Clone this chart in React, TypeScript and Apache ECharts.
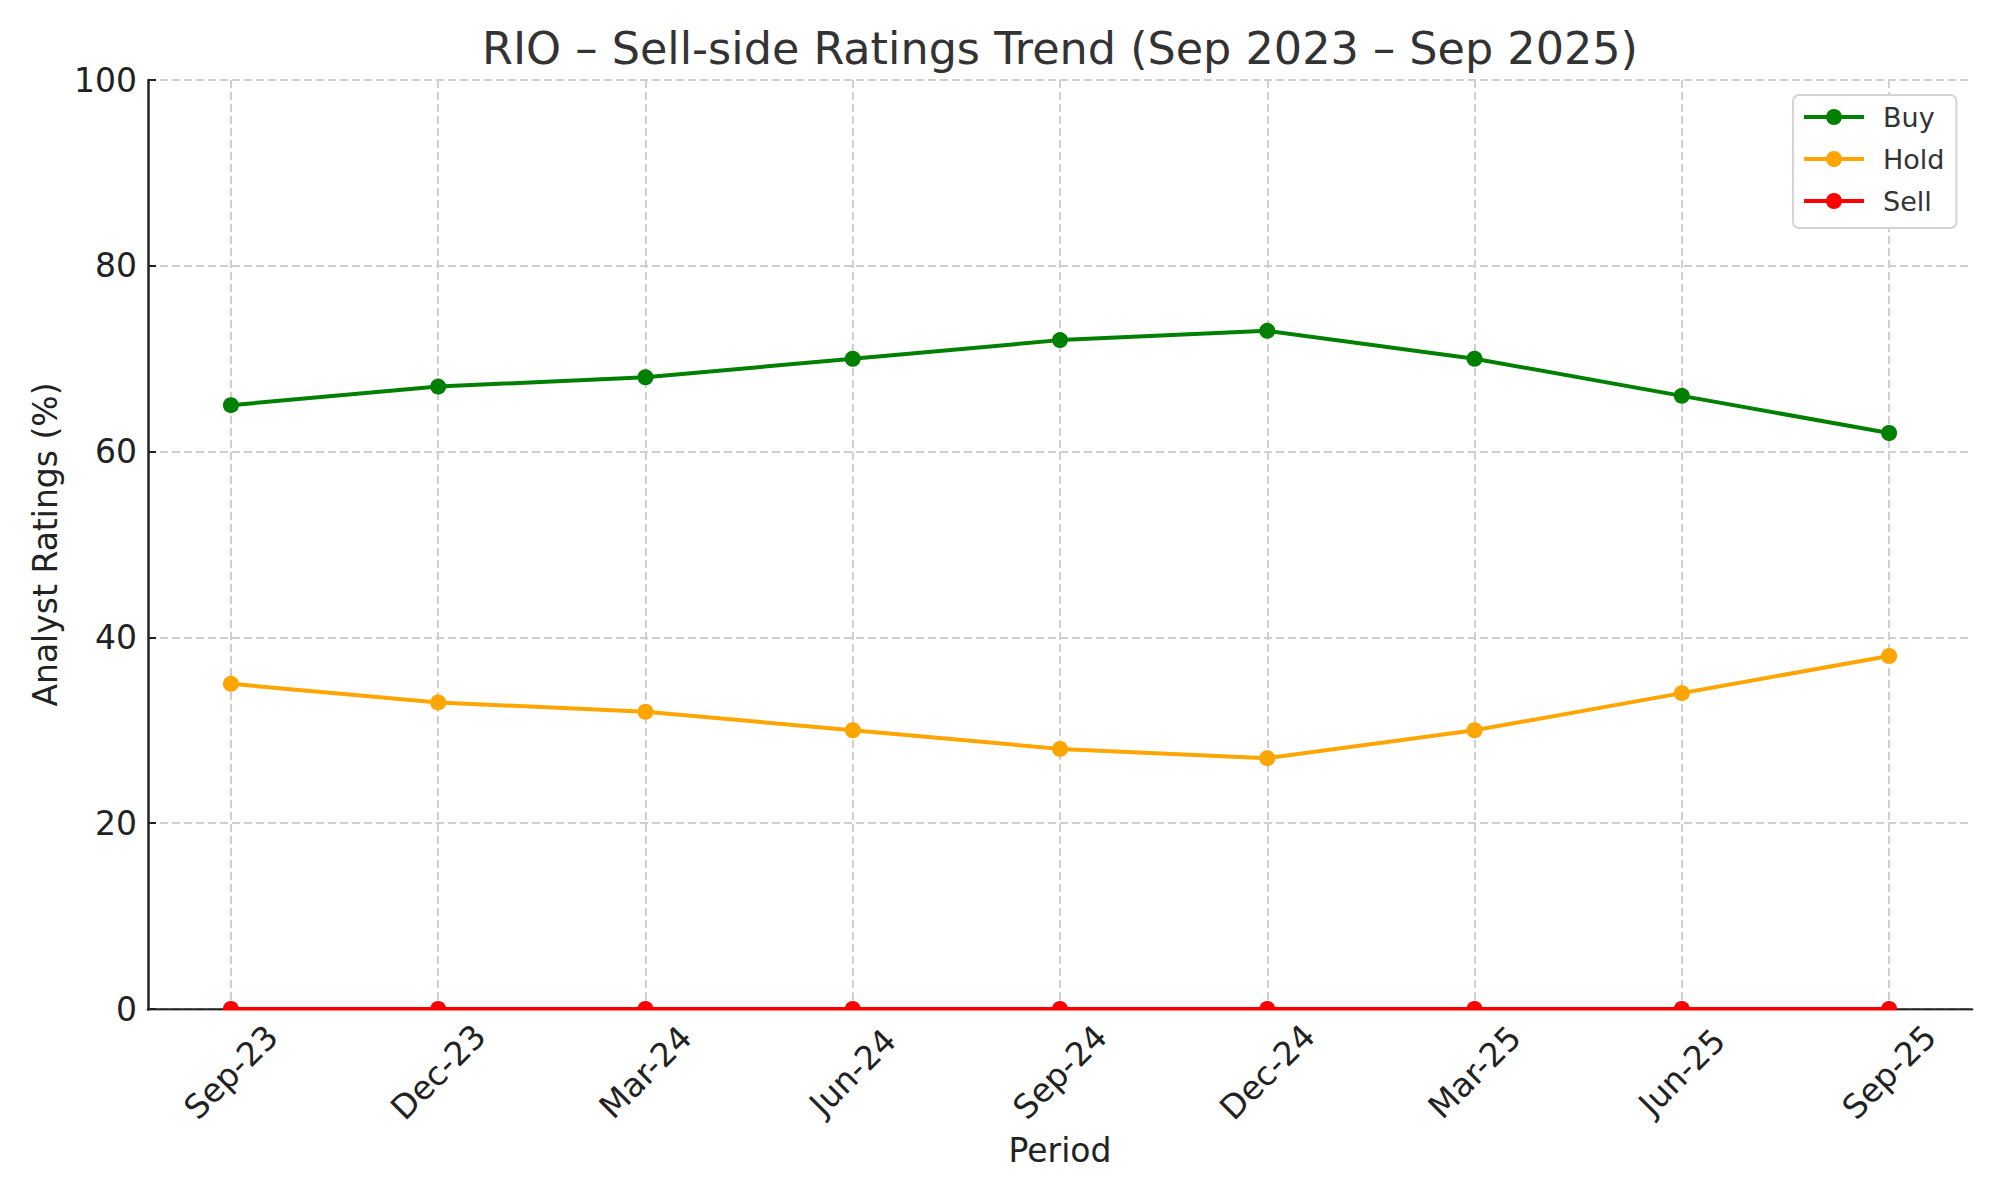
import React, { useEffect, useRef } from "react";
import * as echarts from "echarts";

const categories = ["Sep-23", "Dec-23", "Mar-24", "Jun-24", "Sep-24", "Dec-24", "Mar-25", "Jun-25", "Sep-25"];
const buyValues = [65, 67, 68, 70, 72, 73, 70, 66, 62];
const holdValues = [35, 33, 32, 30, 28, 27, 30, 34, 38];
const sellValues = [0, 0, 0, 0, 0, 0, 0, 0, 0];
const yTicks = [0, 20, 40, 60, 80, 100];

const titleText = "RIO – Sell-side Ratings Trend (Sep 2023 – Sep 2025)";
const FONT = "DejaVu Sans";

export default function App() {
  const ref = useRef<HTMLDivElement>(null);
  useEffect(() => {
    if (!ref.current) return;
    const chart = echarts.init(ref.current, null, { renderer: "svg" });
    const idx = categories.map((_, i) => i);
    const mk = (name: string, vals: number[], color: string) => ({
      name,
      type: "line",
      data: vals.map((v, i) => [i, v]),
      symbol: "circle",
      symbolSize: 16,
      itemStyle: { color },
      lineStyle: { color, width: 4 },
      clip: false,
      z: 3,
    });
    chart.setOption({
      animation: false,
      backgroundColor: "#ffffff",
      textStyle: { fontFamily: FONT },
      grid: { left: 148, right: 28, top: 80, bottom: 191, containLabel: false },
      xAxis: {
        type: "value",
        min: -0.4,
        max: 8.4,
        name: "Period",
        nameLocation: "middle",
        nameGap: 141,
        nameTextStyle: { fontSize: 33, color: "#222", fontFamily: FONT, verticalAlign: "middle" },
        axisLine: { show: true, onZero: false, lineStyle: { color: "#222", width: 2.5 } },
        axisTick: { show: true, inside: true, length: 8, lineStyle: { color: "#222", width: 2 }, customValues: idx },
        axisLabel: {
          customValues: idx,
          formatter: (v: number) => categories[Math.round(v)] ?? "",
          rotate: 45,
          align: "center",
          verticalAlign: "middle",
          margin: 63,
          fontSize: 33,
          color: "#222",
          fontFamily: FONT,
        },
        splitLine: { show: true, lineStyle: { color: "#cfcfcf", width: 2, type: [8, 4] } },
      },
      yAxis: {
        type: "value",
        min: 0,
        max: 100,
        interval: 20,
        name: "Analyst Ratings (%)",
        nameLocation: "middle",
        nameGap: 103,
        nameTextStyle: { fontSize: 33, color: "#222", fontFamily: FONT, verticalAlign: "middle" },
        axisLine: { show: true, onZero: false, lineStyle: { color: "#222", width: 2.5 } },
        axisTick: { show: true, inside: true, length: 8, lineStyle: { color: "#222", width: 2 } },
        axisLabel: {
          formatter: (v: number) => (yTicks.includes(v) ? String(v) : ""),
          margin: 11,
          fontSize: 33,
          color: "#222",
          fontFamily: FONT,
        },
        splitLine: { show: true, lineStyle: { color: "#cfcfcf", width: 2, type: [8, 4] } },
      },
      legend: {
        data: ["Buy", "Hold", "Sell"],
        orient: "vertical",
        left: 1793,
        top: 95,
        itemWidth: 60,
        itemHeight: 20,
        itemGap: 14,
        padding: [8, 12, 13, 9],
        borderColor: "#d4d4d4",
        borderWidth: 2,
        borderRadius: 6,
        backgroundColor: "#ffffff",
        lineStyle: { width: 4 },
        textStyle: { fontSize: 27, color: "#333", fontFamily: FONT, lineHeight: 28, padding: [0, 0, 0, 14] },
      },
      graphic: [
        {
          type: "text",
          x: 1060,
          y: 48,
          z: 10,
          style: {
            text: titleText,
            fontSize: 44.5,
            fontFamily: FONT,
            fill: "#333",
            textAlign: "center",
            textVerticalAlign: "middle",
          },
        },
        {
          type: "rect",
          z: 100,
          shape: { x: 149.5, y: 1010.4, width: 1845, height: 12 },
          style: { fill: "#ffffff" },
        },
      ],
      series: [
        mk("Buy", buyValues, "#008000"),
        mk("Hold", holdValues, "#FFA500"),
        mk("Sell", sellValues, "#FF0000"),
      ],
    });
    return () => chart.dispose();
  }, []);
  return <div ref={ref} style={{ position: "fixed", left: 0, top: 0, width: 2000, height: 1200 }} />;
}
